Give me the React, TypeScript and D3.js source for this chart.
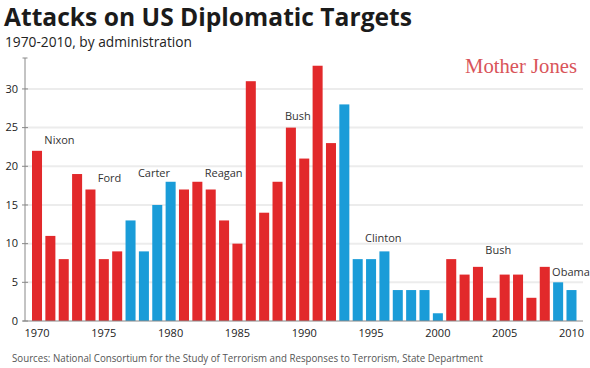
import * as d3 from 'd3'

const years = d3.range(1970, 2011)
const attacks = [
  22, 11, 8, 19, 17, 8, 9, 13, 9, 15, 18, 17, 18, 17, 13, 10, 31, 14, 18, 25, 21,
  33, 23, 28, 8, 8, 9, 4, 4, 4, 1, 8, 6, 7, 3, 6, 6, 3, 7, 5, 4,
]
// party of the sitting administration per year
const party = [
  'R', 'R', 'R', 'R', 'R', 'R', 'R', 'D', 'D', 'D', 'D', 'R', 'R', 'R', 'R', 'R', 'R', 'R', 'R', 'R', 'R',
  'R', 'R', 'D', 'D', 'D', 'D', 'D', 'D', 'D', 'D', 'R', 'R', 'R', 'R', 'R', 'R', 'R', 'R', 'D', 'D',
]
const yTicks = [0, 5, 10, 15, 20, 25, 30]
const xTicks = [1970, 1975, 1980, 1985, 1990, 1995, 2000, 2005, 2010]
const admins = ['Nixon', 'Ford', 'Carter', 'Reagan', 'Bush', 'Clinton', 'Bush', 'Obama']
const adminYear = [1971, 1975, 1978, 1983, 1989, 1995, 2004, 2009]
const adminLevel = [22.9, 18, 18.6, 18.6, 26, 10.2, 8.6, 5.8]

const W = 590
const H = 368
const RED = '#e2292b'
const BLUE = '#1a9cd8'

export default function App() {
  const x = d3.scaleBand<number>().domain(years).range([32, 576.5]).paddingInner(0.25).paddingOuter(0)
  const y = d3.scaleLinear().domain([0, 34]).range([321, 58])
  const sans = '"Open Sans", sans-serif'

  return (
    <svg width={W} height={H} style={{ position: 'absolute', left: 0, top: 0, background: '#fff' }}>
      <text x={4} y={26} fontFamily={sans} fontWeight={700} fontSize={25} fill="#1b1b1b"
        textLength={408} lengthAdjust="spacingAndGlyphs">
        Attacks on US Diplomatic Targets
      </text>
      <text x={5} y={47} fontFamily={sans} fontSize={14} fill="#222" textLength={187} lengthAdjust="spacingAndGlyphs">
        1970-2010, by administration
      </text>
      <text x={577} y={73} textAnchor="end" fontFamily='"Liberation Serif", serif' fontSize={20} fill="#d9545a"
        textLength={112} lengthAdjust="spacingAndGlyphs">
        Mother Jones
      </text>

      {yTicks.filter(t => t > 0).map(t => (
        <line key={t} x1={25} x2={583} y1={y(t)} y2={y(t)} stroke="#ececec" strokeWidth={2} />
      ))}

      {years.map((yr, i) => (
        <rect key={yr} x={x(yr)} y={y(attacks[i])} width={x.bandwidth()} height={y(0) - y(attacks[i])}
          fill={party[i] === 'R' ? RED : BLUE} />
      ))}

      <line x1={25} x2={25} y1={y.range()[1]} y2={y(0)} stroke="#888" strokeWidth={1} />
      <line x1={22.5} x2={27.5} y1={y.range()[1]} y2={y.range()[1]} stroke="#888" strokeWidth={1} />
      <line x1={23} x2={583} y1={y(0)} y2={y(0)} stroke="#888" strokeWidth={1} />
      {yTicks.map(t => (
        <g key={t}>
          <line x1={22} x2={28} y1={y(t)} y2={y(t)} stroke="#888" strokeWidth={1} />
          <text x={18} y={y(t)} dy="0.35em" textAnchor="end" fontFamily={sans} fontSize={11} fill="#222">
            {t}
          </text>
        </g>
      ))}

      {xTicks.map(t => (
        <text key={t} x={(x(t) ?? 0) + x.bandwidth() / 2} y={337} textAnchor="middle" fontFamily={sans}
          fontSize={11} fill="#222">
          {t}
        </text>
      ))}

      {admins.map((name, i) => (
        <text key={i} x={(x(adminYear[i]) ?? 0) - 1} y={y(adminLevel[i])} fontFamily={sans} fontSize={11}
          fill="#333">
          {name}
        </text>
      ))}

      <text x={12} y={362} fontFamily={sans} fontSize={11.5} fill="#555" textLength={471} lengthAdjust="spacingAndGlyphs">
        Sources: National Consortium for the Study of Terrorism and Responses to Terrorism, State Department
      </text>
    </svg>
  )
}
